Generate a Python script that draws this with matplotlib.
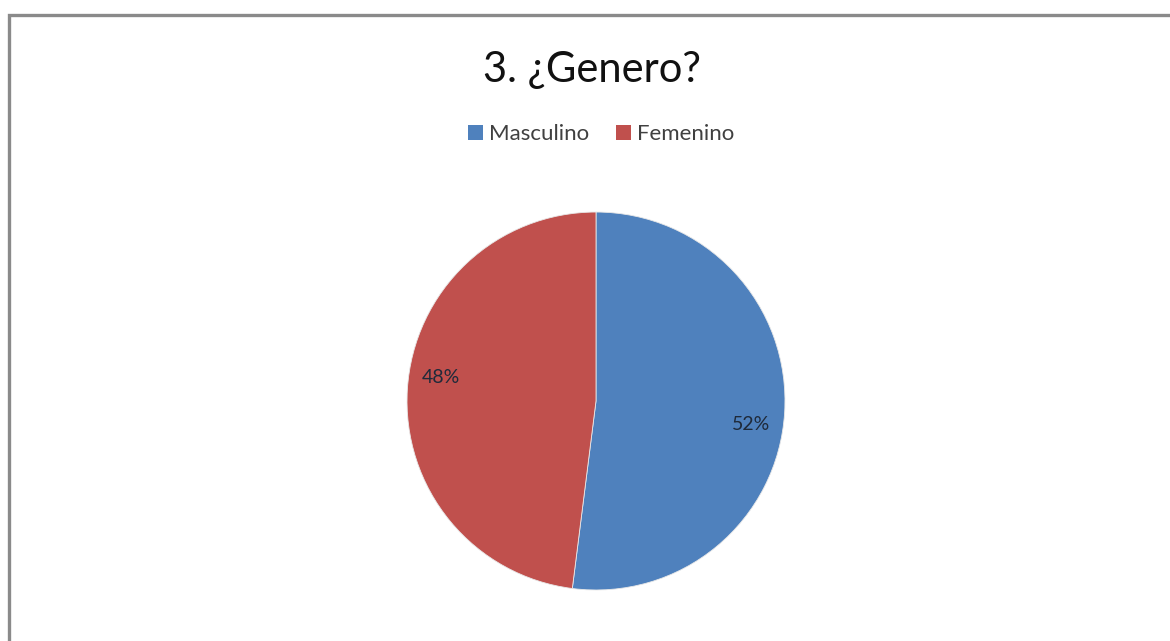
import matplotlib
matplotlib.use('Agg')
import matplotlib.pyplot as plt
import numpy as np
from matplotlib.patches import Rectangle, Patch

# Datos de la pregunta 3
categorias = ['Masculino', 'Femenino']
porcentajes = [52, 48]
colores = ['#4F81BD', '#C0504D']

plt.rcParams['font.family'] = ['Lato', 'DejaVu Sans']

fig = plt.figure(figsize=(11.7, 6.41), dpi=100)
fig.patch.set_facecolor('white')

# Marco gris del gráfico
fig.patches.append(Rectangle((9 / 1170, -0.2), 1.2, 0.2 + 626 / 641,
                             transform=fig.transFigure, fill=False,
                             edgecolor='#8a8a8a', linewidth=2.4))

# Ejes cuadrados para la torta
ax = fig.add_axes([0.3075, 0.00585, 0.4038, 0.7371])
wedges, textos, pct = ax.pie(porcentajes, colors=colores, startangle=90,
                             counterclock=False, autopct='%1.0f%%',
                             pctdistance=0.83,
                             wedgeprops=dict(edgecolor='#e8e8e8', linewidth=0.6),
                             textprops=dict(fontsize=14, color='#1f2a3a'))
# etiquetas un poco giradas en sentido horario, como en Excel
for w, t in zip(wedges, pct):
    ang = np.deg2rad((w.theta1 + w.theta2) / 2 - 5)
    t.set_position((0.83 * np.cos(ang), 0.83 * np.sin(ang)))
ax.set_xlim(-1.25, 1.25)
ax.set_ylim(-1.25, 1.25)
ax.set_aspect('equal')

fig.text(592 / 1170, 1 - 82 / 641, '3. ¿Genero?', ha='center', va='baseline',
         fontsize=30, color='#111111')

handles = [Patch(facecolor=c, label=l) for c, l in zip(colores, categorias)]
fig.legend(handles=handles, loc='center', bbox_to_anchor=(601 / 1170, 1 - 134 / 641),
           ncol=2, frameon=False, fontsize=16, handlelength=0.68, handleheight=0.68,
           handletextpad=0.27, columnspacing=1.2, labelcolor='#404040')

fig.savefig('out.png', dpi=100, facecolor='white')
